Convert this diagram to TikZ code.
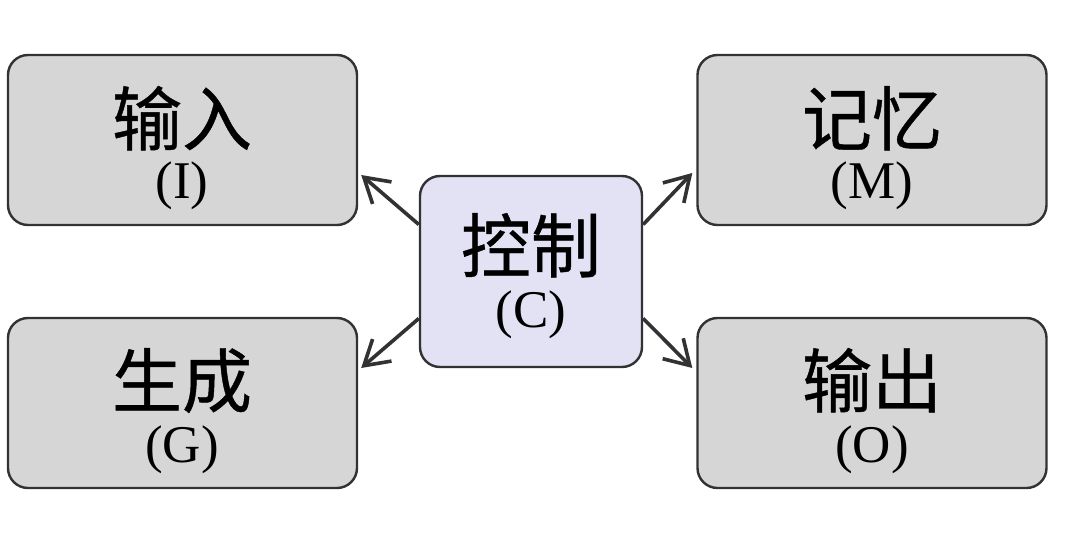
\documentclass[tikz,border=0pt]{standalone}
\usepackage{fontspec}
\setmainfont{Liberation Serif}
\newfontfamily\cjk[FakeBold=0.6]{Noto Sans CJK SC}
\usetikzlibrary{arrows.meta,calc}
\definecolor{boxfill}{RGB}{214,214,214}
\definecolor{boxline}{RGB}{50,50,50}
\definecolor{ctrlfill}{RGB}{226,226,244}
\definecolor{arrowcol}{RGB}{50,50,50}
\tikzset{
  box/.style={draw=boxline, line width=2.4pt, fill=boxfill, rounded corners=20pt,
    minimum width=349pt, minimum height=170pt, inner sep=0pt},
  ctrlbox/.style={box, fill=ctrlfill, minimum width=222pt, minimum height=191pt},
  cjklabel/.style={anchor=base, inner sep=0pt, font=\cjk\fontsize{70}{72}\selectfont},
  latlabel/.style={anchor=base, inner sep=0pt, font=\fontsize{53}{55}\selectfont},
  conn/.style={draw=arrowcol, line width=3.6pt,
    -{Straight Barb[length=24pt,width=29pt,line width=3.6pt]}}
}
\begin{document}
\begin{tikzpicture}[x=1pt,y=-1pt]
\useasboundingbox[fill=white] (0,0) rectangle (1080,545);
\node[box] (I) at (182.5,140) {};
\node[box] (M) at (872,140) {};
\node[box] (G) at (182.5,403) {};
\node[box] (O) at (872,403) {};
\node[ctrlbox] (C) at (531,271.5) {};

\node[cjklabel] (It) at (182,145) {输入};
\node[latlabel] (Il) at (182,199) {(I)};
\node[cjklabel] (Mt) at (872,145) {记忆};
\node[latlabel] (Ml) at (872,199) {(M)};
\node[cjklabel] (Gt) at (182,407) {生成};
\node[latlabel] (Gl) at (182,463) {(G)};
\node[cjklabel] (Ot) at (872,407) {输出};
\node[latlabel] (Ol) at (872,463) {(O)};
\node[cjklabel] (Ct) at (531,272) {控制};
\node[latlabel] (Cl) at (531,328) {(C)};

\draw[conn] ($(C.west)+(0,-47)$) -- ($(I.east)+(3,35)$);
\draw[conn] ($(C.west)+(0,47)$) -- ($(G.east)+(3,-35)$);
\draw[conn] ($(C.east)+(0,-47)$) -- ($(M.west)+(-4,33)$);
\draw[conn] ($(C.east)+(0,47)$) -- ($(O.west)+(-4,-35)$);
\end{tikzpicture}
\end{document}
